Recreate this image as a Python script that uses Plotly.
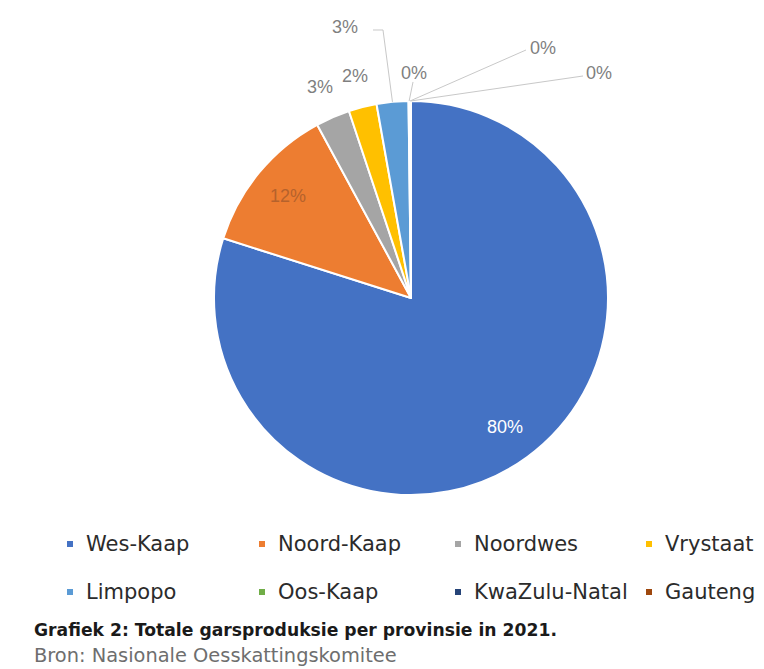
import math
import plotly.graph_objects as go

# Barley production share per province, 2021 (percent)
provinces = ["Wes-Kaap", "Noord-Kaap", "Noordwes", "Vrystaat",
             "Limpopo", "Oos-Kaap", "KwaZulu-Natal", "Gauteng"]
share_pct = [79.9, 12.2, 2.8, 2.3, 2.6, 0.1, 0.05, 0.05]
slice_colors = ["#4472C4", "#ED7D31", "#A5A5A5", "#FFC000",
                "#5B9BD5", "#70AD47", "#264478", "#9E480E"]

caption = "Grafiek 2: Totale garsproduksie per provinsie in 2021."
source = "Bron: Nasionale Oesskattingskomitee"

W, H = 764, 669
CX, CY, R = 411, 298, 197          # pie centre and radius (px)


def px(x):
    return x / W


def py(y):
    return 1 - y / H


total = sum(share_pct)
pct_text = [f"{round(v / total * 100)}%" for v in share_pct]

# mid-angle of every slice, measured clockwise from 12 o'clock
mids = []
acc = 0.0
for v in share_pct:
    mids.append((acc + v / 2) / total * 2 * math.pi)
    acc += v


def polar(theta, rr):
    return CX + rr * math.sin(theta), CY - rr * math.cos(theta)


def text_note(x, y, text, size, color, family, xanchor="center", weight="normal"):
    return dict(x=px(x), y=py(y), xref="paper", yref="paper",
                xanchor=xanchor, yanchor="middle", text=text, showarrow=False,
                font=dict(family=family, size=size, color=color, weight=weight))


fig = go.Figure()
fig.add_trace(go.Pie(
    labels=provinces,
    values=share_pct,
    sort=False,
    direction="clockwise",
    rotation=0,
    textinfo="none",
    hoverinfo="label+percent",
    showlegend=False,
    marker=dict(colors=slice_colors, line=dict(color="white", width=2)),
    domain=dict(x=[px(CX - R), px(CX + R)], y=[py(CY + R), py(CY - R)]),
))

annotations = []
shapes = []

label_font = "Liberation Sans"
label_grey = "#7F7F7F"

# labels inside the two large slices
inside_colors = {0: "white", 1: "#B5622C"}
for i, col in inside_colors.items():
    x, y = polar(mids[i], 0.81 * R)
    annotations.append(text_note(x, y, pct_text[i], 18, col, label_font))

# labels just outside the rim
for i in (2, 3):
    x, y = polar(mids[i], 1.165 * R)
    annotations.append(text_note(x, y, pct_text[i], 18, label_grey, label_font))

# call-out labels with leader lines
callout_pos = {4: (345, 27), 5: (414, 73), 6: (543, 48), 7: (599, 73)}
leader_start = {4: [(373, 30), (383, 30)], 5: [(413, 82)], 6: [(526, 50)], 7: [(583, 76)]}
for i, (lx, ly) in callout_pos.items():
    annotations.append(text_note(lx, ly, pct_text[i], 18, label_grey, label_font))
    pts = leader_start[i] + [polar(mids[i], R)]
    path = "M " + " L ".join(f"{px(a):.5f},{py(b):.5f}" for a, b in pts)
    shapes.append(dict(type="path", path=path, xref="paper", yref="paper",
                       line=dict(color="#C8C8C8", width=1)))

# legend, four columns by two rows
col_x = [70, 262, 458, 649]
row_y = [544, 592]
legend_font = "DejaVu Sans"
for k, name in enumerate(provinces):
    mx = col_x[k % 4]
    my = row_y[k // 4]
    shapes.append(dict(type="rect", xref="paper", yref="paper",
                       x0=px(mx - 3), x1=px(mx + 3), y0=py(my + 3), y1=py(my - 3),
                       fillcolor=slice_colors[k], line=dict(width=0)))
    annotations.append(text_note(mx + 14, my, name, 21, "#2B2B2B", legend_font,
                                 xanchor="left"))

# caption and source
annotations.append(text_note(32, 630, caption, 17.2, "#1A1A1A", legend_font,
                             xanchor="left", weight="bold"))
annotations.append(text_note(32, 655, source, 19.4, "#6E6E6E", legend_font,
                             xanchor="left"))

fig.update_layout(
    width=W, height=H, autosize=False,
    margin=dict(l=0, r=0, t=0, b=0),
    paper_bgcolor="white", plot_bgcolor="white",
    annotations=annotations, shapes=shapes,
)

fig.write_html("out.html")
